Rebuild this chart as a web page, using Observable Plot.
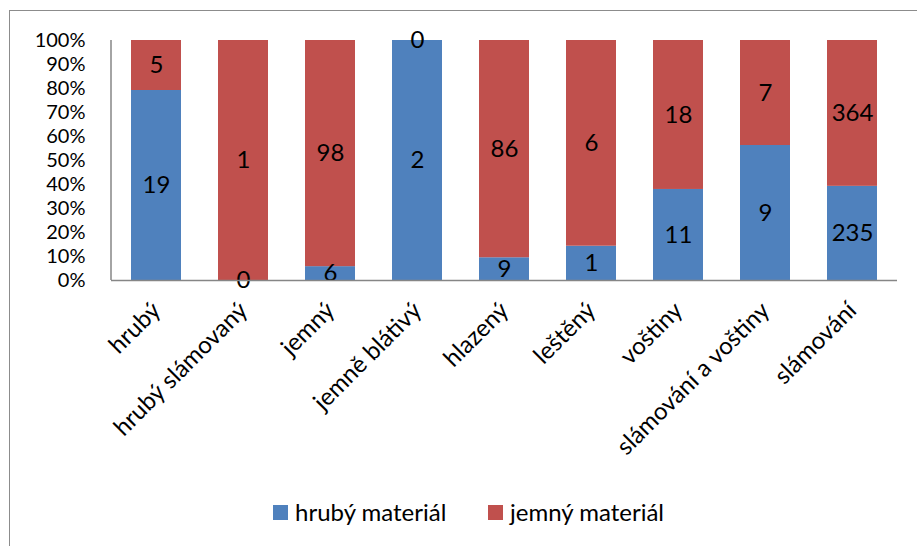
<!DOCTYPE html>
<html>
<head>
<meta charset="utf-8">
<script src="https://cdn.jsdelivr.net/npm/d3@7"></script>
<script src="https://cdn.jsdelivr.net/npm/@observablehq/plot@0.6"></script>
<style>
  html, body { margin: 0; padding: 0; background: #fff; }
  #wrap { position: relative; width: 917px; height: 546px; overflow: hidden; font-family: Lato, "Open Sans", sans-serif; }
  #frame { position: absolute; left: 9px; top: 10px; width: 940px; height: 600px; border: 1.5px solid #8c8c8c; box-sizing: border-box; }
  #chart { position: absolute; left: 0; top: 0; }
  .legend { position: absolute; top: 497px; font-size: 24px; line-height: 30px; color: #000; display: flex; align-items: center; white-space: nowrap; }
  .legend span.sw { display: inline-block; width: 15px; height: 15px; margin-right: 7px; }
</style>
</head>
<body>
<div id="wrap">
  <div id="frame"></div>
  <div id="chart"></div>
</div>
<script>
const categories = ["hrubý", "hrubý slámovaný", "jemný", "jemně blátivý", "hlazený", "leštěný", "voštiny", "slámování a voštiny", "slámování"];
const hrubyMaterial = [19, 0, 6, 2, 9, 1, 11, 9, 235];
const jemnyMaterial = [5, 1, 98, 0, 86, 6, 18, 7, 364];
const seriesNames = ["hrubý materiál", "jemný materiál"];
const seriesColors = ["#4F81BD", "#C0504D"];
const yTicks = [0, 0.1, 0.2, 0.3, 0.4, 0.5, 0.6, 0.7, 0.8, 0.9, 1];

const rows = [];
categories.forEach((c, i) => {
  rows.push({category: c, series: seriesNames[0], value: hrubyMaterial[i]});
  rows.push({category: c, series: seriesNames[1], value: jemnyMaterial[i]});
});

const stackOpts = {x: "category", y: "value", z: "series", offset: "normalize"};

const chart = Plot.plot({
  width: 917,
  height: 546,
  marginTop: 40,
  marginBottom: 266,
  marginLeft: 111,
  marginRight: 20,
  style: {fontFamily: "Lato, 'Open Sans', sans-serif", fontSize: "20px", color: "#000", background: "transparent"},
  x: {domain: categories, paddingInner: 0.43, paddingOuter: 0.215, label: null},
  y: {domain: [0, 1], label: null},
  color: {domain: seriesNames, range: seriesColors},
  marks: [
    Plot.barY(rows, Plot.stackY({...stackOpts, fill: "series"})),
    Plot.text(rows, Plot.stackY({...stackOpts, text: "value", fill: "#000", fontSize: 24})),
    Plot.ruleY([0], {stroke: "#868686", strokeWidth: 1.5}),
    Plot.axisY({ticks: yTicks, tickSize: 0, tickPadding: 26, tickFormat: d => Math.round(d * 100) + "%", label: null, fontSize: 20}),
    Plot.axisX({tickSize: 0, tickPadding: 26, tickRotate: -45, label: null, fontSize: 24})
  ]
});
document.getElementById("chart").appendChild(chart);

// vertical axis line along the left edge of the plot area
const svg = d3.select(chart);
svg.append("line")
  .attr("x1", 111).attr("x2", 111)
  .attr("y1", 40).attr("y2", 280)
  .attr("stroke", "#868686").attr("stroke-width", 1.5);

// legend below the chart
const legendX = [273, 488];
seriesNames.forEach((name, i) => {
  const d = document.createElement("div");
  d.className = "legend";
  d.style.left = legendX[i] + "px";
  d.innerHTML = `<span class="sw" style="background:${seriesColors[i]}"></span>${name}`;
  document.getElementById("wrap").appendChild(d);
});
</script>
</body>
</html>
